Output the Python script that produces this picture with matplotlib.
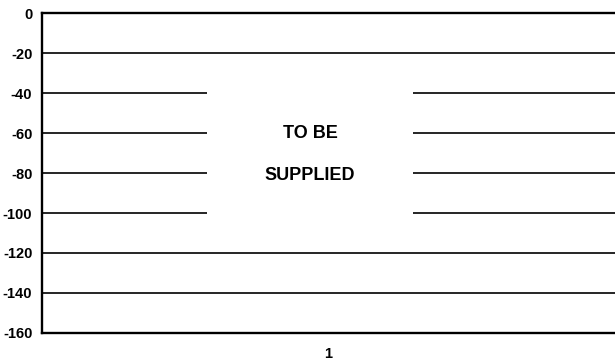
import matplotlib
matplotlib.use("Agg")
import matplotlib.pyplot as plt
from matplotlib.patches import Rectangle

plt.rcParams['font.family'] = ['Liberation Sans', 'DejaVu Sans']
plt.rcParams['font.weight'] = 'bold'

categories = ["1"]
y_ticks = [0, -20, -40, -60, -80, -100, -120, -140, -160]
placeholder_lines = ["TO BE", "SUPPLIED"]
placeholder_y = [-60, -81]

fig = plt.figure(figsize=(6.15, 3.6), dpi=100)
ax = fig.add_axes([42/615, 1-333/360, 1-42/615, (333-13)/360])

ax.set_xlim(-0.5, len(categories) - 0.5)
ax.set_ylim(min(y_ticks), max(y_ticks))
ax.set_yticks(y_ticks)
ax.set_yticklabels([str(v) for v in y_ticks], fontsize=10.5, fontweight='bold')
ax.set_xticks(range(len(categories)))
ax.set_xticklabels(categories, fontsize=10.5, fontweight='bold')
ax.tick_params(axis='both', length=0)
ax.tick_params(axis='y', pad=7)
ax.tick_params(axis='x', pad=10)

for v in y_ticks[1:-1]:
    ax.axhline(v, color='black', lw=1.2, zorder=1)

box_l, box_r = (207-42)/573, (413-42)/573
ax.add_patch(Rectangle((box_l, 0.3125), box_r - box_l, 0.5, transform=ax.transAxes,
                       facecolor='white', edgecolor='none', zorder=2))

for txt, yv in zip(placeholder_lines, placeholder_y):
    ax.text((box_l + box_r) / 2, yv, txt, ha='center', va='center', fontsize=13,
            fontweight='bold', zorder=3, transform=ax.get_yaxis_transform())

for s in ['left', 'top', 'bottom']:
    ax.spines[s].set_linewidth(1.7)
    ax.spines[s].set_color('black')
ax.spines['right'].set_visible(False)

fig.savefig("out.png", dpi=100)
